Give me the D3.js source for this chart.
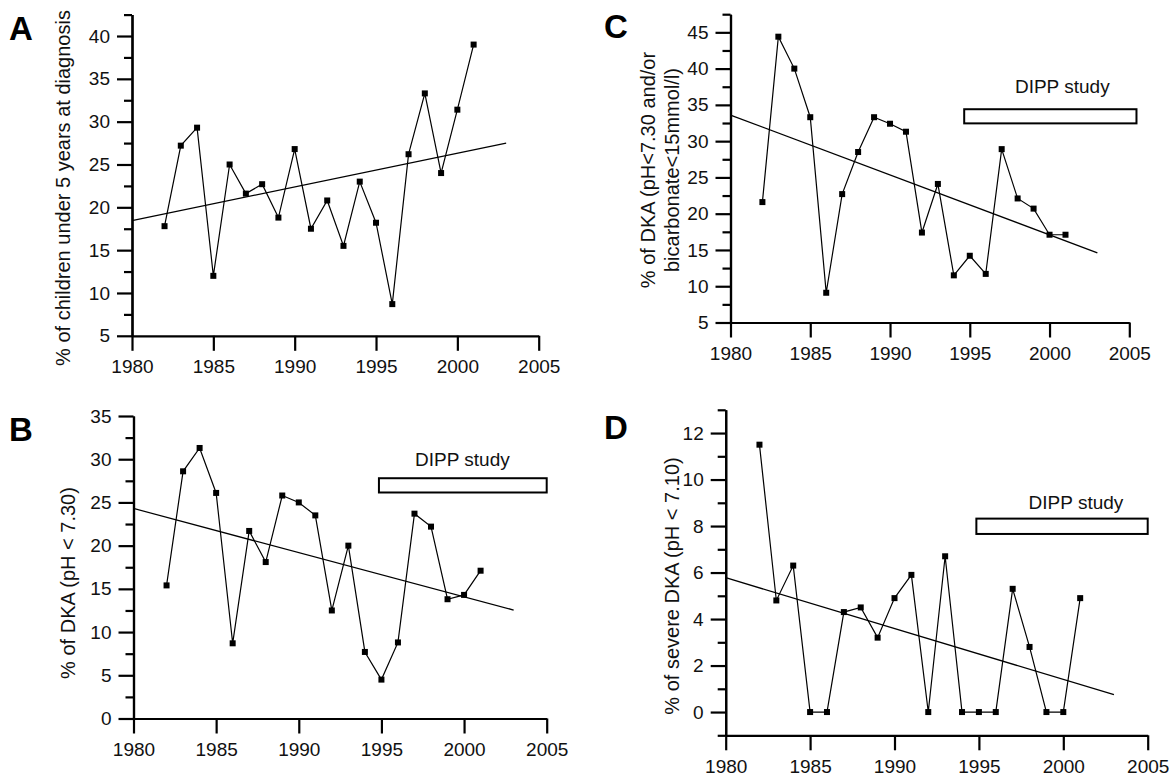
<!DOCTYPE html>
<html>
<head>
<meta charset="utf-8">
<script src="https://cdn.jsdelivr.net/npm/d3@7"></script>
<style>
  html, body { margin: 0; padding: 0; background: #fff; }
  svg { display: block; font-family: "Liberation Sans", Arial, Helvetica, sans-serif; }
</style>
</head>
<body>
<svg id="chart" width="1171" height="776"></svg>
<script>
// ---------- DATA ----------
const years = [1982, 1983, 1984, 1985, 1986, 1987, 1988, 1989, 1990, 1991,
               1992, 1993, 1994, 1995, 1996, 1997, 1998, 1999, 2000, 2001];

// A: % of children under 5 years at diagnosis
const valuesA = [17.8, 27.2, 29.3, 12.0, 25.0, 21.6, 22.7, 18.8, 26.8, 17.5,
                 20.8, 15.5, 23.0, 18.2, 8.7, 26.2, 33.3, 24.0, 31.4, 39.0];
// B: % of DKA (pH < 7.30)
const valuesB = [15.4, 28.6, 31.3, 26.1, 8.7, 21.7, 18.1, 25.8, 25.0, 23.5,
                 12.5, 20.0, 7.7, 4.5, 8.8, 23.7, 22.2, 13.8, 14.3, 17.1];
// C: % of DKA (pH<7.30 and/or bicarbonate<15mmol/l)
const valuesC = [21.6, 44.4, 40.0, 33.3, 9.1, 22.7, 28.5, 33.3, 32.4, 31.3,
                 17.4, 24.1, 11.5, 14.2, 11.7, 28.9, 22.1, 20.7, 17.1, 17.1];
// D: % of severe DKA (pH < 7.10)
const valuesD = [11.5, 4.8, 6.3, 0, 0, 4.3, 4.5, 3.2, 4.9, 5.9,
                 0, 6.7, 0, 0, 0, 5.3, 2.8, 0, 0, 4.9];

// linear trend lines (start / end)
const trendYears = [1980, 2003];
const trendA = [18.45, 27.5];
const trendB = [24.3, 12.55];
const trendC = [33.6, 14.6];
const trendD = [5.78, 0.75];

// DIPP study period bars [startYear, endYear], [low, high]
const dippYearsBD = [1994.85, 2005];
const dippYearsC = [1994.65, 2005.45];
const dippB = [26.15, 27.8];
const dippC = [32.45, 34.4];
const dippD = [7.66, 8.32];
const dippLabel = "DIPP study";

// axes ticks
const xTicks = [1980, 1985, 1990, 1995, 2000, 2005];
const yTicksA = [5, 10, 15, 20, 25, 30, 35, 40];
const yMinorA = [7.5, 12.5, 17.5, 22.5, 27.5, 32.5, 37.5, 42.5];
const yTicksB = [0, 5, 10, 15, 20, 25, 30, 35];
const yMinorB = [2.5, 7.5, 12.5, 17.5, 22.5, 27.5, 32.5];
const yTicksC = [5, 10, 15, 20, 25, 30, 35, 40, 45];
const yMinorC = [7.5, 12.5, 17.5, 22.5, 27.5, 32.5, 37.5, 42.5, 47.5];
const yTicksD = [0, 2, 4, 6, 8, 10, 12];
const yMinorD = [-1, 1, 3, 5, 7, 9, 11, 13];

// ---------- LAYOUT ----------
const panels = [
  { letter: "A", values: valuesA, trend: trendA, yDomain: [5, 42.5],
    yTicks: yTicksA, yMinor: yMinorA,
    xRange: [132, 538.7], yRange: [335.8, 14.6],
    letterPos: [9, 40],
    ylabel: ["% of children under 5 years at diagnosis"], ylabelPos: [63, 188],
    dipp: null },
  { letter: "B", values: valuesB, trend: trendB, yDomain: [0, 35],
    yTicks: yTicksB, yMinor: yMinorB,
    xRange: [133.5, 546.7], yRange: [718.5, 416],
    letterPos: [9, 441],
    ylabel: ["% of DKA (pH < 7.30)"], ylabelPos: [68, 583],
    dipp: { years: dippYearsBD, vals: dippB, textYear: 1999.9, textVal: 29.2 } },
  { letter: "C", values: valuesC, trend: trendC, yDomain: [5, 47.5],
    yTicks: yTicksC, yMinor: yMinorC,
    xRange: [730.5, 1129.3], yRange: [322.5, 14.2],
    letterPos: [604, 38],
    ylabel: ["% of DKA (pH<7.30 and/or", "bicarbonate<15mmol/l)"], ylabelPos: [660, 170],
    dipp: { years: dippYearsC, vals: dippC, textYear: 2000.8, textVal: 36.6 } },
  { letter: "D", values: valuesD, trend: trendD, yDomain: [-1, 13],
    yTicks: yTicksD, yMinor: yMinorD,
    xRange: [725.7, 1147.7], yRange: [735.3, 409.8],
    letterPos: [604, 439],
    ylabel: ["% of severe DKA (pH < 7.10)"], ylabelPos: [672, 586],
    dipp: { years: dippYearsBD, vals: dippD, textYear: 2000.75, textVal: 8.72 } }
];

const svg = d3.select("#chart");
const FONT = 19;
const LABEL_FONT = 20;

panels.forEach(p => {
  const x = d3.scaleLinear().domain([1980, 2005]).range(p.xRange);
  const y = d3.scaleLinear().domain(p.yDomain).range(p.yRange);
  const g = svg.append("g");

  // x axis
  g.append("g")
    .attr("transform", `translate(0,${p.yRange[0]})`)
    .call(d3.axisBottom(x).tickValues(xTicks).tickFormat(d3.format("d"))
      .tickSize(15).tickSizeOuter(0).tickPadding(9));
  // y axis minor
  g.append("g")
    .attr("transform", `translate(${p.xRange[0]},0)`)
    .call(d3.axisLeft(y).tickValues(p.yMinor).tickFormat("")
      .tickSize(8).tickSizeOuter(0));
  // y axis major
  g.append("g")
    .attr("transform", `translate(${p.xRange[0]},0)`)
    .call(d3.axisLeft(y).tickValues(p.yTicks).tickFormat(d3.format("d"))
      .tickSize(15).tickSizeOuter(0).tickPadding(7));

  g.selectAll(".domain, .tick line")
    .attr("stroke", "#000").attr("stroke-width", 2.2);
  g.selectAll(".tick text")
    .attr("font-size", FONT).attr("fill", "#111")
    .attr("font-family", "'Liberation Sans', Arial, sans-serif");

  // trend line
  g.append("line")
    .attr("x1", x(trendYears[0])).attr("y1", y(p.trend[0]))
    .attr("x2", x(trendYears[1])).attr("y2", y(p.trend[1]))
    .attr("stroke", "#000").attr("stroke-width", 1.3);

  // data line
  const line = d3.line().x((d, i) => x(years[i])).y(d => y(d));
  g.append("path").datum(p.values)
    .attr("d", line).attr("fill", "none")
    .attr("stroke", "#000").attr("stroke-width", 1.2);

  // markers
  const s = 6;
  g.selectAll("rect.pt").data(p.values).enter().append("rect")
    .attr("class", "pt")
    .attr("x", (d, i) => x(years[i]) - s / 2)
    .attr("y", d => y(d) - s / 2)
    .attr("width", s).attr("height", s)
    .attr("fill", "#000");

  // DIPP study bar
  if (p.dipp) {
    g.append("rect")
      .attr("x", x(p.dipp.years[0]))
      .attr("y", y(p.dipp.vals[1]))
      .attr("width", x(p.dipp.years[1]) - x(p.dipp.years[0]))
      .attr("height", y(p.dipp.vals[0]) - y(p.dipp.vals[1]))
      .attr("fill", "#fff").attr("stroke", "#000").attr("stroke-width", 2);
    g.append("text")
      .attr("x", x(p.dipp.textYear)).attr("y", y(p.dipp.textVal))
      .attr("text-anchor", "middle")
      .attr("font-size", 19).attr("fill", "#111")
      .text(dippLabel);
  }

  // panel letter
  svg.append("text")
    .attr("x", p.letterPos[0]).attr("y", p.letterPos[1])
    .attr("font-size", 33).attr("font-weight", "bold").attr("fill", "#000")
    .text(p.letter);

  // y label
  const yl = svg.append("text")
    .attr("transform", `translate(${p.ylabelPos[0]},${p.ylabelPos[1]}) rotate(-90)`)
    .attr("text-anchor", "middle")
    .attr("font-size", LABEL_FONT).attr("fill", "#111");
  const n = p.ylabel.length;
  p.ylabel.forEach((t, i) => {
    yl.append("tspan")
      .attr("x", 0)
      .attr("y", (i - (n - 1) / 2) * 1.2 * LABEL_FONT)
      .attr("dy", "0.35em")
      .text(t);
  });
});
</script>
</body>
</html>
